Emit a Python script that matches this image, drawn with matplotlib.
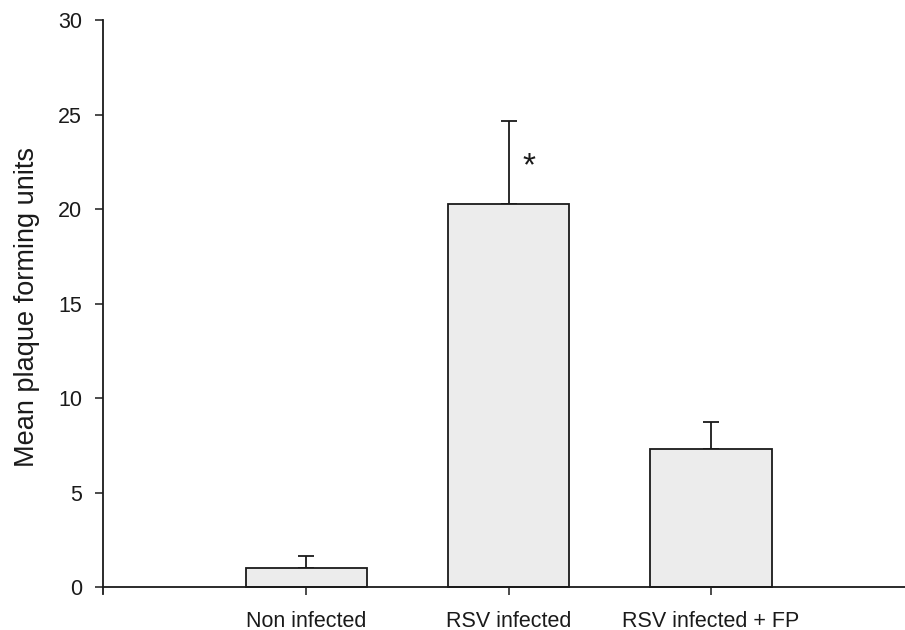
import matplotlib
matplotlib.use("Agg")
import matplotlib.pyplot as plt

categories = ["Non infected", "RSV infected", "RSV infected + FP"]
means = [1.0, 20.25, 7.3]
err_upper = [0.62, 4.4, 1.42]
yticks = [0, 5, 10, 15, 20, 25, 30]

plt.rcParams['font.family'] = ['Liberation Sans', 'DejaVu Sans']

fig = plt.figure(figsize=(9.05, 6.3), dpi=100)
ax = fig.add_axes([103/905, 36/630, 1 - 103/905, (594-20)/630])

x = list(range(len(categories)))
ax.bar(x, means, width=0.6, color='#ececec', edgecolor='#1a1a1a', linewidth=1.3, zorder=2)
ax.errorbar(x, means, yerr=[[0]*len(means), err_upper], fmt='none', ecolor='#1a1a1a',
            elinewidth=1.3, capsize=6, capthick=1.3, zorder=1)

ax.text(1.1, 22.25, '*', ha='center', va='center', fontsize=24, color='#1a1a1a')

ax.set_xlim(-1.006, 2.96)
ax.set_ylim(-0.37, 30)
ax.spines['top'].set_visible(False)
ax.spines['right'].set_visible(False)
ax.spines['bottom'].set_position(('data', 0))
for s in ['left', 'bottom']:
    ax.spines[s].set_linewidth(1.3)
    ax.spines[s].set_color('#1a1a1a')

ax.set_yticks(yticks)
ax.set_yticklabels([str(v) for v in yticks], fontsize=15.5)
ax.set_xticks(x)
ax.set_xticklabels(categories, fontsize=15.5)
ax.tick_params(axis='y', direction='out', length=6, width=1.1, pad=9, colors='#1a1a1a')
ax.tick_params(axis='x', direction='out', length=6, width=1.1, pad=11, colors='#1a1a1a')
ax.set_ylabel('Mean plaque forming units', fontsize=19.5, labelpad=13, color='#1a1a1a')

fig.savefig('out.png', dpi=100)
